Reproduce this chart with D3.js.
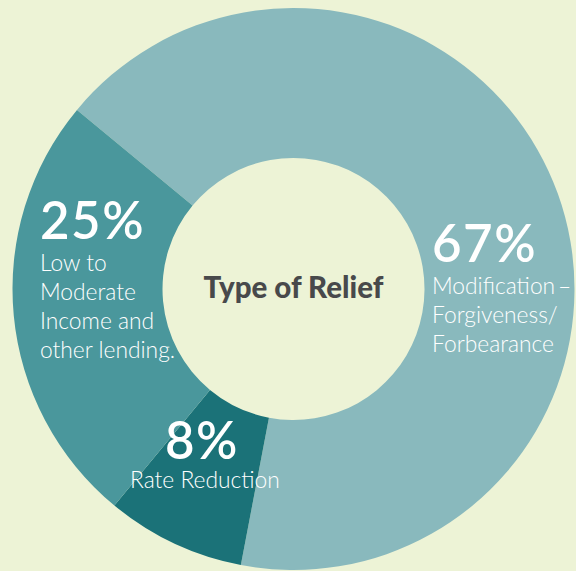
<!DOCTYPE html>
<html>
<head>
<meta charset="utf-8">
<script src="https://cdn.jsdelivr.net/npm/d3@7"></script>
<style>
  html, body { margin: 0; padding: 0; background: #edf3d6; }
  svg { display: block; }
</style>
</head>
<body>
<svg id="chart" width="576" height="571"></svg>
<script>
// ---- data ----
const categories = ["Modification–Forgiveness/Forbearance", "Rate Reduction", "Low to Moderate Income and other lending."];
const values = [67, 8, 25];
const percentLabels = ["67%", "8%", "25%"];
const labelLines = [
  ["Modification\u2009–", "Forgiveness/", "Forbearance"],
  ["Rate Reduction"],
  ["Low to", "Moderate", "Income and", "other lending."]
];
const colors = ["#89b9bd", "#1b7278", "#4a979c"];
const title = "Type of Relief";

// ---- layout ----
const W = 576, H = 571;
const cx = 293.5, cy = 289;
const outerR = 281, innerR = 131;
const startDeg = -50.4;
const labelPos = [
  { x: 432 - cx, y: 262 - cy },
  { x: 130 - cx, y: 459 - cy, pctX: 165 - cx },
  { x: 40 - cx,  y: 239 - cy }
];

const svg = d3.select("#chart");
svg.append("rect").attr("width", W).attr("height", H).attr("fill", "#edf3d6");

const g = svg.append("g").attr("transform", `translate(${cx},${cy})`);

const pie = d3.pie().sort(null).value(d => d)
  .startAngle(startDeg * Math.PI / 180)
  .endAngle(startDeg * Math.PI / 180 + 2 * Math.PI);
const arc = d3.arc().innerRadius(innerR).outerRadius(outerR);

const arcs = pie(values);
g.selectAll("path.slice").data(arcs).enter().append("path")
  .attr("class", "slice")
  .attr("d", arc)
  .attr("fill", (d, i) => colors[i]);

// title
g.append("text")
  .attr("x", 0).attr("y", 9)
  .attr("text-anchor", "middle")
  .attr("font-family", "Lato")
  .attr("font-weight", 900)
  .attr("font-size", 29.5)
  .attr("fill", "#48494b")
  .text(title);

// labels
arcs.forEach((a, i) => {
  const p = labelPos[i];
  const px = p.pctX !== undefined ? p.pctX : p.x;
  g.append("text")
    .attr("x", px).attr("y", p.y)
    .attr("font-family", "Lato")
    .attr("font-weight", 600)
    .attr("font-size", 51)
    .attr("letter-spacing", 1.5)
    .attr("fill", "#ffffff")
    .text(percentLabels[i]);
  labelLines[i].forEach((line, j) => {
    g.append("text")
      .attr("x", p.x)
      .attr("y", p.y + (i === 1 ? 29 : 32) + j * 29)
      .attr("font-family", "Lato")
      .attr("font-weight", 300)
      .attr("font-size", 22.8)
      .attr("fill", "#ffffff")
      .text(line);
  });
});
</script>
</body>
</html>
